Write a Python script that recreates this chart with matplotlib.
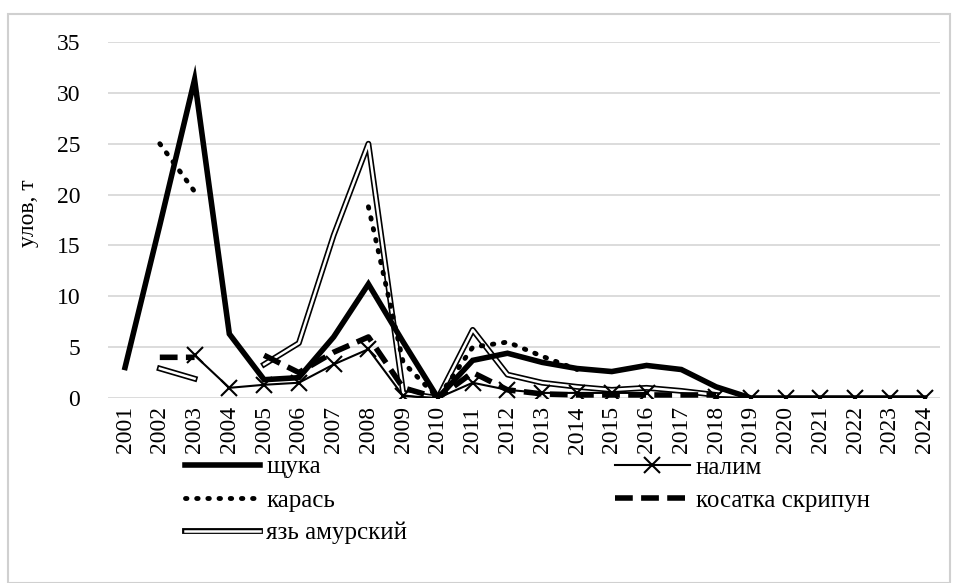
import numpy as np
import matplotlib.pyplot as plt
import matplotlib.patheffects as pe
from matplotlib.patches import Rectangle

nan = np.nan
years = [str(y) for y in range(2001, 2025)]

shchuka = [3.0, 17.0, 31.3, 6.3, 1.8, 2.0, 6.0, 11.2, 5.5, 0.0, 3.7, 4.4, 3.5, 2.9,
           2.6, 3.2, 2.8, 1.1, 0.0, 0.0, 0.0, 0.0, 0.0, 0.0]
nalim = [nan, nan, 4.2, 1.0, 1.3, 1.5, 3.3, 4.8, 0.2, 0.0, 1.5, 0.8, 0.5, 0.5,
         0.5, 0.5, nan, 0.1, 0.0, 0.0, 0.0, 0.0, 0.0, 0.0]
karas = [nan, 25.0, 20.3, nan, nan, nan, nan, 18.8, 3.5, 0.0, 5.0, 5.5, 4.1, 2.8,
         nan, nan, nan, nan, nan, nan, nan, nan, nan, nan]
kosatka = [nan, 4.0, 4.0, nan, 4.2, 2.5, 4.5, 6.0, 1.0, 0.0, 2.5, 0.8, 0.4, 0.3,
           0.3, 0.3, 0.3, 0.3, nan, nan, nan, nan, nan, nan]
yaz = [nan, 2.9, 1.9, nan, 3.3, 5.4, 16.0, 25.0, 0.5, 0.0, 6.7, 2.3, 1.5, 1.1,
       0.8, 1.0, 0.7, 0.3, nan, nan, nan, nan, nan, nan]

plt.rcParams['font.family'] = ['Liberation Serif', 'DejaVu Serif']

fig = plt.figure(figsize=(9.57, 5.83), dpi=100)
fig.patches.append(Rectangle((8 / 957, 0), 942 / 957, 1 - 14 / 583, transform=fig.transFigure,
                             fill=False, edgecolor='#d0d0d0', linewidth=1.5))
ax = fig.add_axes([108 / 957, 1 - 398 / 583, 832 / 957, 356 / 583])

x = np.arange(len(years))
l1, = ax.plot(x, shchuka, color='black', lw=4, solid_joinstyle='miter', label='щука', zorder=5)
l3, = ax.plot(x, karas, color='black', lw=3.5, linestyle=(0, (0.3, 2.0)), dash_capstyle='round',
              label='карась', zorder=4)
l5, = ax.plot(x, yaz, color='white', lw=1.8, label='язь амурский', zorder=3,
              path_effects=[pe.Stroke(linewidth=4.2, foreground='black'), pe.Normal()])
l2, = ax.plot(x, nalim, color='black', lw=1.5, marker='x', markersize=12, mew=1.5,
              label='налим', zorder=6)
l4, = ax.plot(x, kosatka, color='black', lw=4, linestyle=(0, (3.2, 1.5)), label='косатка скрипун',
              zorder=4)

ax.set_xlim(-0.49, 23.44)
ax.set_ylim(0, 35)
ax.set_yticks(range(0, 36, 5))
ax.set_xticks(x)
ax.set_xticklabels(years, rotation=90, fontsize=17)
ax.tick_params(axis='y', labelsize=17, length=0, pad=20)
ax.tick_params(axis='x', length=0, pad=6)
ax.grid(axis='y', color='#d9d9d9', lw=1.3)
ax.set_axisbelow(True)
for s in ax.spines.values():
    s.set_visible(False)
ax.set_ylabel('улов, т', fontsize=17, labelpad=2)
ax.yaxis.set_label_coords(-0.083, 0.52)

fig.legend(handles=[l1, l3, l5, l2, l4], ncol=2, loc='upper left',
           bbox_to_anchor=(185 / 957, 1 - 456 / 583), frameon=False, fontsize=18,
           handlelength=3.0, handletextpad=0.25, columnspacing=8.3, labelspacing=0.42,
           borderpad=0, borderaxespad=0)

fig.savefig('out.png', dpi=100)
